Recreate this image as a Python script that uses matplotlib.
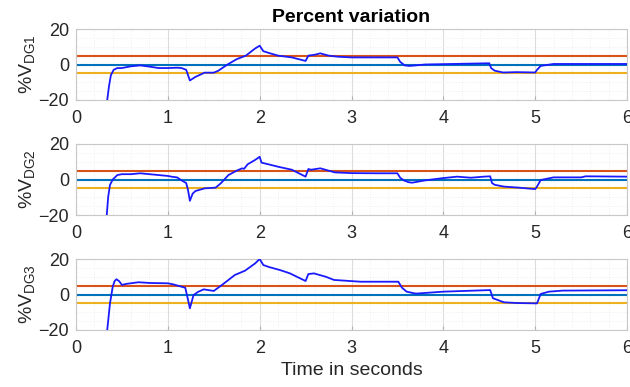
import numpy as np
import matplotlib
matplotlib.use("Agg")
import matplotlib.pyplot as plt
from matplotlib.ticker import MultipleLocator

plt.rcParams["font.family"] = ["Liberation Sans", "DejaVu Sans"]
plt.rcParams["mathtext.default"] = "regular"

# reference levels (percent)
upper_lim = 5
nominal = 0
lower_lim = -5

# DG1 voltage variation
t1 = [0.34, 0.36, 0.38, 0.41, 0.45, 0.5, 0.6, 0.7, 0.8, 0.9, 1.0, 1.1, 1.15,
      1.2, 1.24, 1.3, 1.4, 1.5, 1.55, 1.65, 1.75, 1.85, 1.95, 2.0, 2.04, 2.1,
      2.2, 2.35, 2.5, 2.53, 2.6, 2.66, 2.75, 2.85, 3.0, 3.3, 3.5, 3.53, 3.58,
      3.63, 3.7, 3.8, 4.0, 4.3, 4.5, 4.52, 4.56, 4.65, 4.8, 5.0, 5.02, 5.06,
      5.2, 5.5, 6.0]
v1 = [-20, -12, -6, -3, -2, -2, -1, -0.5, -1.2, -2, -2, -1.8, -2,
      -3, -9, -7, -4.6, -4.6, -3.5, 0, 3, 5, 9, 10.6, 7.5, 6.5,
      5, 4, 2, 5, 5.5, 6.3, 5, 4.4, 4, 4, 4, 1.5, -0.5,
      -0.8, -0.5, 0, 0.2, 0.5, 0.7, -2, -3.5, -4.5, -4.3, -4.5, -3, -0.8,
      0.3, 0.3, 0.3]

# DG2 voltage variation
t2 = [0.335, 0.35, 0.37, 0.4, 0.45, 0.5, 0.6, 0.7, 0.8, 0.9, 1.0, 1.05, 1.1,
      1.15, 1.2, 1.22, 1.24, 1.27, 1.3, 1.4, 1.52, 1.58, 1.66, 1.75, 1.81,
      1.83, 1.87, 1.95, 2.0, 2.02, 2.1, 2.2, 2.35, 2.5, 2.53, 2.56, 2.66,
      2.75, 2.82, 3.0, 3.3, 3.5, 3.53, 3.57, 3.62, 3.66, 3.8, 4.0, 4.15, 4.3,
      4.44, 4.51, 4.53, 4.56, 4.66, 4.8, 5.0, 5.02, 5.06, 5.2, 5.5, 5.55, 6.0]
v2 = [-20, -10, -3.1, 0, 2.5, 3, 3, 3.5, 3, 2.5, 2, 1.5, 1.2,
      -0.5, -2, -6, -12, -8, -6.5, -5, -4.6, -2, 2.5, 5, 6.3,
      6, 8.6, 11, 12.8, 9.5, 8.5, 7.2, 5.5, 1.6, 5.9, 5.5, 6.3,
      5, 4, 3.6, 3.5, 3.5, 1, -0.5, -1.5, -1.8, -0.5, 0.8, 1.6, 1,
      1.6, 1.8, -2, -3, -4, -4.5, -5.4, -4, -0.3, 1.2, 1.2, 1.8, 1.6]

# DG3 voltage variation
t3 = [0.34, 0.37, 0.40, 0.42, 0.44, 0.47, 0.5, 0.55, 0.68, 0.8, 1.0, 1.06,
      1.19, 1.22, 1.24, 1.28, 1.33, 1.39, 1.5, 1.59, 1.73, 1.84, 1.95, 2.0,
      2.04, 2.1, 2.22, 2.33, 2.5, 2.53, 2.59, 2.72, 2.81, 3.1, 3.51, 3.55,
      3.6, 3.7, 4.0, 4.51, 4.54, 4.66, 4.8, 5.02, 5.06, 5.15, 5.3, 6.0]
v3 = [-20, -5, 4.4, 7.5, 8.6, 7.5, 5.4, 6, 6.9, 6.5, 6.3, 5.7,
      3.8, -3, -7.8, -0.3, 1.5, 2.9, 2, 5.4, 11, 13.4, 17.5, 20,
      16.6, 15.5, 13.8, 11.9, 7.6, 11.5, 11.9, 10, 8.2, 7.2, 7.2, 3.8,
      1.6, 0.5, 1.6, 2.5, -2.1, -4.4, -4.8, -5, 0.3, 1.6, 2.2, 2.4]

series = [(t1, v1, "DG1"), (t2, v2, "DG2"), (t3, v3, "DG3")]

fig = plt.figure(figsize=(6.3, 3.87), dpi=100)
left, width, height = 76 / 630, 551 / 630, 71 / 387
bottoms = [1 - 100 / 387, 1 - 215 / 387, 1 - 330 / 387]

tick_col = "#262626"
for i, (t, v, name) in enumerate(series):
    ax = fig.add_axes([left, bottoms[i], width, height])
    ax.axhline(upper_lim, color="#D95319", lw=1.5, zorder=2)
    ax.axhline(nominal, color="#0072BD", lw=1.5, zorder=2)
    ax.axhline(lower_lim, color="#EDB120", lw=1.5, zorder=2)
    ax.plot(t, v, color="#1a1aff", lw=1.3, zorder=3)
    ax.set_xlim(0, 6)
    ax.set_ylim(-20, 20)
    ax.set_xticks(range(7))
    ax.set_yticks([-20, 0, 20])
    ax.xaxis.set_minor_locator(MultipleLocator(0.2))
    ax.yaxis.set_minor_locator(MultipleLocator(5))
    ax.grid(True, which="major", color="#dcdcdc", lw=0.8, zorder=0)
    ax.grid(True, which="minor", color="#ececec", lw=0.6, ls=":", zorder=0)
    ax.tick_params(which="both", direction="in", length=3, color="#b0b0b0",
                   labelsize=13, labelcolor=tick_col, top=False, right=False)
    ax.tick_params(axis="x", pad=7.5)
    ax.tick_params(axis="y", pad=5)
    ax.tick_params(which="minor", length=0)
    for sp in ax.spines.values():
        sp.set_color("#c8c8c8")
        sp.set_linewidth(0.8)
    ax.set_ylabel("%V$_{" + name + "}$", fontsize=14, color=tick_col, labelpad=1)
    if i == 0:
        ax.set_title("Percent variation", fontsize=14, fontweight="bold", pad=5)
    if i == 2:
        ax.set_xlabel("Time in seconds", fontsize=14, color=tick_col, labelpad=3)

fig.savefig("out.png", dpi=100)
